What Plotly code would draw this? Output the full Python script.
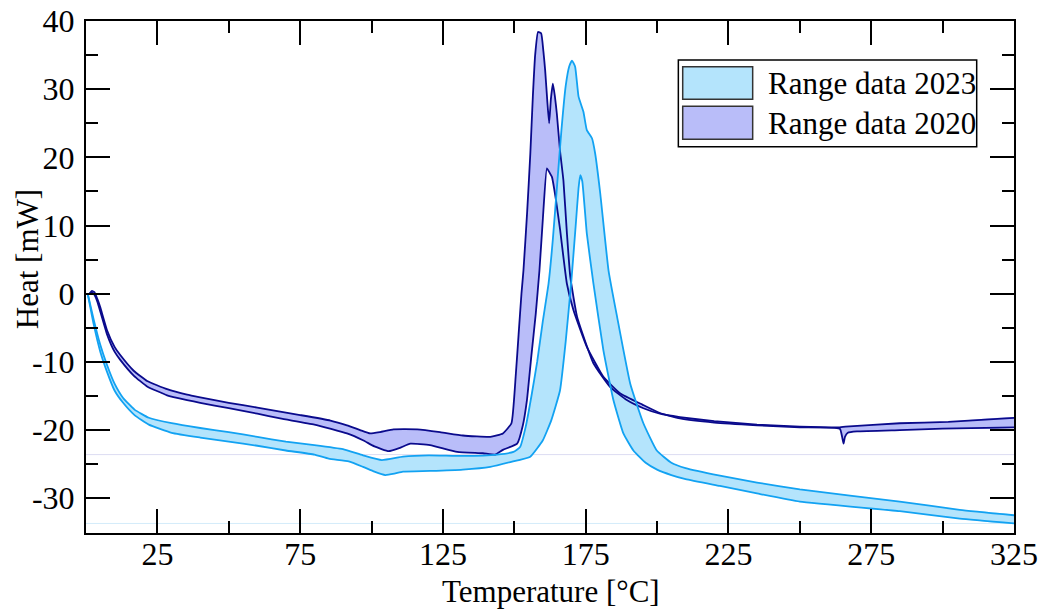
import plotly.graph_objects as go

# Range data 2023 (light blue band)
t23_up = [0.6, 2.7, 5, 7.4, 10, 13, 17, 22, 30, 40, 50, 60, 70, 80, 90, 97, 103.6, 111, 120, 132, 144,
          149.7, 152, 154, 156, 158, 160, 162, 163.5, 165, 166.5, 168, 169.2, 170.2, 171.3, 172.5,
          174.2, 175.4, 177.2, 178.3, 180.1, 183, 186, 190.6, 195.2, 199.9, 205, 210, 222, 235, 250,
          285, 306, 325]
h23_up = [0.0, -3.8, -7.5, -10.5, -13.2, -15.3, -17.0, -18.2, -19.0, -19.7, -20.3, -21.0, -21.7, -22.2,
          -22.8, -23.7, -24.4, -23.9, -23.7, -23.8, -23.6, -23.2, -22.5, -19.5, -15, -10, -4, 1.5, 8,
          16, 24, 30.5, 33.3, 34.2, 33.3, 28.9, 26.7, 24.0, 22.8, 20.6, 14.7, 3.4, -3.4, -13.2, -19.0,
          -23.0, -24.8, -25.6, -26.7, -27.7, -28.7, -30.5, -31.7, -32.5]
t23_lo = [0.6, 2.7, 5, 7.4, 10, 13, 17, 22, 30, 40, 50, 60, 70, 80, 85, 92, 97, 101, 104.8, 108, 111,
          120.5, 132, 141.6, 148.6, 155.6, 160, 163, 166, 168, 170, 171.5, 172.5, 173.1, 173.8, 175.4,
          177.7, 181.2, 184.7, 188.2, 191.7, 196, 200, 205, 210, 222, 235, 250, 285, 306, 325]
h23_lo = [0.0, -4.5, -8.5, -11.5, -14.2, -16.0, -17.8, -19.2, -20.4, -21.1, -21.7, -22.3, -23.0, -23.6,
          -24.2, -24.6, -25.4, -26.1, -26.6, -26.4, -26.1, -26.0, -25.8, -25.4, -24.7, -23.9, -21.5,
          -18.5, -14.2, -7, 2, 10, 15.5, 17.4, 16.5, 8.8, 1.5, -8.3, -15.6, -20.5, -23.0, -24.8, -25.8,
          -26.6, -27.2, -28.2, -29.3, -30.5, -31.9, -33.0, -33.7]

# Range data 2020 (dark blue band)
t20_up = [1.2, 2.1, 3, 4, 5, 7.4, 10, 12, 16.7, 21.4, 28.4, 35.4, 40, 50, 60, 68, 75, 85.6, 91.4, 96,
          99.5, 103, 107.7, 116, 124, 132, 141.6, 146, 149, 150.5, 151.5, 152.5, 153.2, 154.5, 155.6,
          156.5, 157.3, 158.3, 159.4, 160.2, 160.8, 161.6, 162.2, 162.8, 163.5, 164.2, 164.9, 166,
          167.2, 168.4, 169.6, 172, 177.7, 183.6, 189.4, 195.2, 201, 208, 220, 235, 250, 264, 266,
          285, 302, 325]
h20_up = [0.0, 0.4, 0.2, -0.8, -2.0, -5.4, -7.8, -9.0, -11.3, -12.8, -14.0, -14.8, -15.2, -16.0, -16.7,
          -17.3, -17.8, -18.6, -19.3, -20.0, -20.5, -20.3, -19.9, -19.9, -20.3, -20.8, -21.0, -20.5,
          -19.0, -12, -6, 0, 3.4, 12, 20.5, 29, 35, 38.4, 38.2, 35.5, 32.8, 28, 25.0, 28.5, 30.8, 29,
          26.4, 21, 16.6, 9, 2.5, -3.4, -10.2, -13.7, -15.6, -16.8, -17.6, -18.1, -18.7, -19.2, -19.5,
          -19.6, -19.5, -19.0, -18.8, -18.2]
t20_lo = [1.2, 2.1, 3, 4, 5, 7.4, 10, 12, 16.7, 21.4, 28.4, 35.4, 40, 50, 60, 68, 80, 91.4, 97, 101,
          106, 110, 113.6, 120.5, 130, 139, 143.3, 146, 151, 153, 154.4, 156, 157.5, 158.8, 160, 161.4,
          162.3, 163.2, 164.5, 166, 168.4, 170.7, 175.4, 181.2, 187, 195, 201, 208, 220, 235, 250, 264,
          264.8, 265.3, 265.8, 266.8, 270, 285, 300, 325]
h20_lo = [0.0, 0.2, -0.2, -1.2, -2.6, -6.0, -8.5, -9.7, -12.0, -13.6, -14.9, -15.6, -16.0, -16.8, -17.6,
          -18.3, -19.2, -20.5, -21.5, -22.4, -23.1, -22.6, -22.0, -22.2, -23.2, -23.4, -23.6, -22.9,
          -22.0, -19.3, -15.7, -9, -3, 3.4, 11, 18.4, 17.8, 17.1, 14, 9.5, 1.5, -2.4, -7.8, -12.2,
          -14.6, -16.3, -17.5, -18.3, -18.9, -19.3, -19.6, -19.8, -21.0, -22.0, -21.0, -20.4, -20.2,
          -20.0, -19.8, -19.6]

series_names = ["Range data 2023", "Range data 2020"]
x_ticks = [25, 75, 125, 175, 225, 275, 325]
y_ticks = [-30, -20, -10, 0, 10, 20, 30, 40]

font = "Liberation Serif"
c23_line, c23_fill = "#12a2f2", "#b4e4fc"
c20_line, c20_fill = "#0a0a8c", "#b9bdf9"

bands = [(t20_up, h20_up, t20_lo, h20_lo, c20_line, c20_fill),
         (t23_up, h23_up, t23_lo, h23_lo, c23_line, c23_fill)]

fig = go.Figure()

# fills first (2020 under 2023), then all the edge lines on top
for t_up, h_up, t_lo, h_lo, line_c, fill_c in bands:
    fig.add_trace(go.Scatter(
        x=t_up + t_lo[::-1], y=h_up + h_lo[::-1], mode="lines", fill="toself",
        fillcolor=fill_c, line=dict(width=0, shape="spline", smoothing=0.4),
        hoverinfo="skip", showlegend=False))
for t_up, h_up, t_lo, h_lo, line_c, fill_c in bands:
    for t, h in [(t_up, h_up), (t_lo, h_lo)]:
        fig.add_trace(go.Scatter(
            x=t, y=h, mode="lines", line=dict(color=line_c, width=1.8, shape="spline", smoothing=0.4),
            showlegend=False))

# faint baselines at each band's minimum
for lo, col in [(h20_lo, "#dcdcf2"), (h23_lo, "#d4ecfa")]:
    fig.add_shape(type="line", xref="x", yref="y", x0=0, x1=325, y0=min(lo), y1=min(lo),
                  line=dict(color=col, width=1), layer="below")

# legend drawn by hand (box, swatches, text)
fig.add_shape(type="rect", xref="paper", yref="paper", x0=0.6383, x1=0.9598, y0=0.7545, y1=0.9238,
              line=dict(color="black", width=1.5), fillcolor="white")
for (y0, y1), col, name, ty in [((0.8471, 0.9107), c23_fill, series_names[0], 0.8783),
                                 ((0.769, 0.8334), c20_fill, series_names[1], 0.8002)]:
    fig.add_shape(type="rect", xref="paper", yref="paper", x0=0.643, x1=0.7184, y0=y0, y1=y1,
                  line=dict(color="#333333", width=1.5), fillcolor=col)
    fig.add_annotation(xref="paper", yref="paper", x=0.7328, y=ty, xanchor="left", yanchor="middle",
                       text=name, showarrow=False, font=dict(family=font, size=31, color="black"))

# axis titles as annotations so they sit exactly where the reference has them
fig.add_annotation(xref="paper", yref="paper", x=0.501, y=-0.1152, xanchor="center", yanchor="middle",
                   text="Temperature [°C]", showarrow=False, font=dict(family=font, size=31, color="black"))
fig.add_annotation(xref="paper", yref="paper", x=-0.0635, y=0.535, xanchor="center", yanchor="middle",
                   text="Heat [mW]", textangle=-90, showarrow=False,
                   font=dict(family=font, size=31, color="black"))

axis_common = dict(showgrid=False, zeroline=False, showline=True, linecolor="black", linewidth=2,
                   mirror="ticks", ticks="inside", ticklen=24, tickwidth=2, tickcolor="black",
                   automargin=False, ticklabeloverflow="allow",
                   tickfont=dict(family=font, size=32, color="black"))

fig.update_xaxes(range=[0, 325], tickvals=x_ticks, ticktext=[str(v) for v in x_ticks],
                 ticklabelstandoff=-8,
                 minor=dict(dtick=25, tick0=0, ticks="inside", ticklen=12, tickwidth=2, tickcolor="black"),
                 **axis_common)
fig.update_yaxes(range=[-35.1, 40.001], tickvals=y_ticks, ticktext=[str(v) for v in y_ticks],
                 ticklabelstandoff=3,
                 minor=dict(dtick=5, tick0=0, ticks="inside", ticklen=12, tickwidth=2, tickcolor="black"),
                 **axis_common)

fig.update_layout(width=1045, height=609, margin=dict(l=86, r=31, t=21, b=76),
                  plot_bgcolor="white", paper_bgcolor="white", showlegend=False)

# drop the default page margin so the figure starts at the window corner
fig.write_html("out.html", config={"displayModeBar": False},
               post_script="document.body.style.margin='0';")
